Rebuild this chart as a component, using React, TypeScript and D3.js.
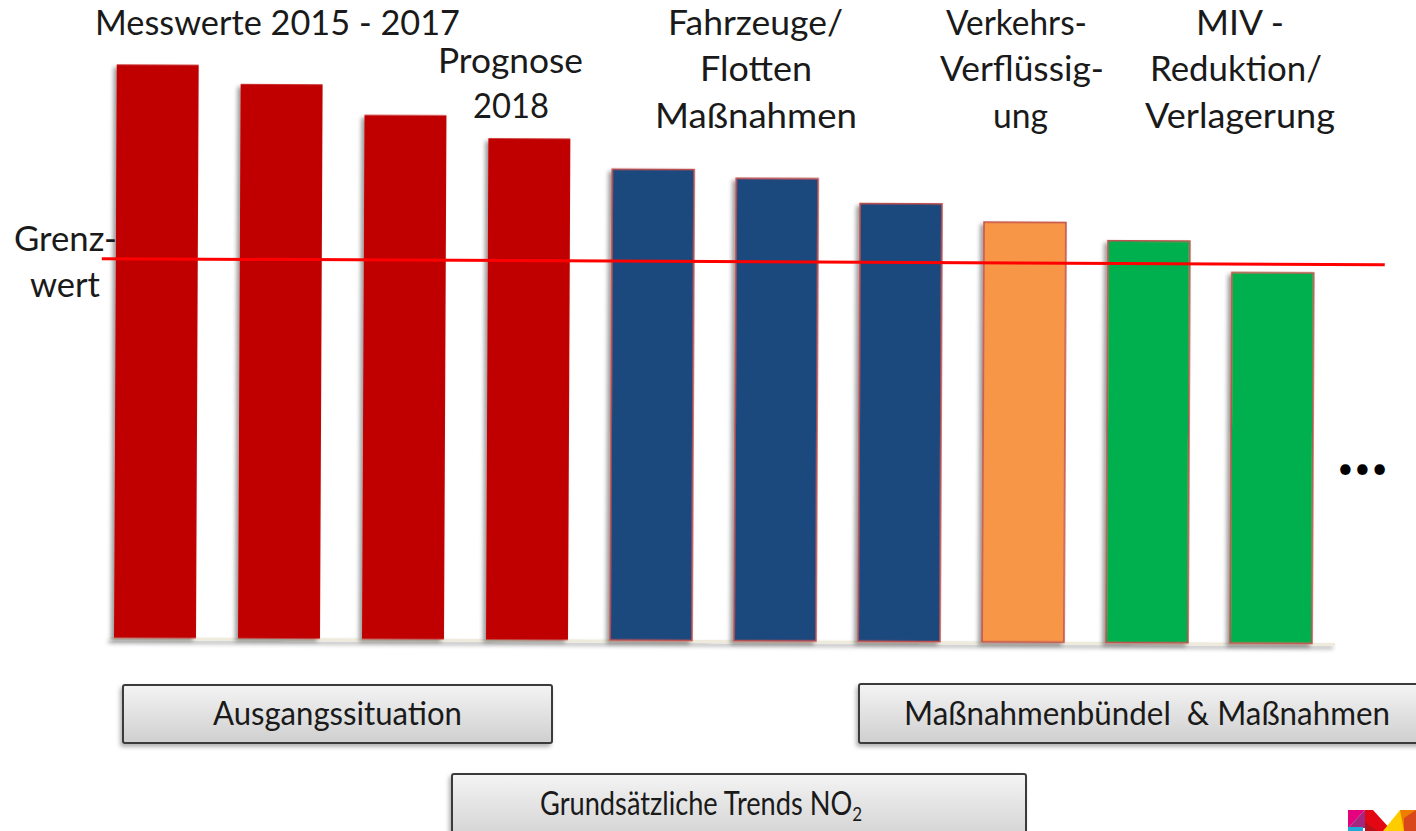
import React from "react";
import * as d3 from "d3";

// ---- data ----
const categories = [
  "Messwert 2015",
  "Messwert 2016",
  "Messwert 2017",
  "Prognose 2018",
  "Fahrzeuge A",
  "Fahrzeuge B",
  "Flotten",
  "Verkehrsverflüssigung",
  "MIV-Reduktion",
  "Verlagerung",
];
const values = [60.5, 58.5, 55.3, 52.9, 49.7, 48.8, 46.2, 44.3, 42.4, 39.1];
const kinds = ["mess", "mess", "mess", "mess", "fahr", "fahr", "fahr", "verk", "miv", "miv"];
const grenzwert = 40;

const kindColor: Record<string, string> = {
  mess: "#c00000",
  fahr: "#1f497d",
  verk: "#f79646",
  miv: "#00b050",
};
const kindStroke: Record<string, string> = {
  mess: "none",
  fahr: "#c0504d",
  verk: "#c0504d",
  miv: "#c0504d",
};

const W = 1416;
const H = 831;
const FONT = "Lato, 'Open Sans', sans-serif";

export default function App() {
  const x = d3
    .scaleBand<string>()
    .domain(categories)
    .range([93, 1333])
    .paddingInner(0.339)
    .paddingOuter(0.1695);
  const y = d3.scaleLinear().domain([0, grenzwert]).range([640.5, 261.5]);

  const label = (t: string, x0: number, x1: number, yb: number, size = 34) => (
    <text
      key={t + x0}
      x={(x0 + x1) / 2}
      y={yb}
      textAnchor="middle"
      fontFamily={FONT}
      fontSize={size}
      fill="#1a1a1a"
      textLength={x1 - x0}
      lengthAdjust="spacingAndGlyphs"
      style={{ whiteSpace: "pre" }}
    >
      {t}
    </text>
  );

  const box = (x0: number, y0: number, x1: number, y1: number) => (
    <rect
      x={x0}
      y={y0}
      width={x1 - x0}
      height={y1 - y0}
      rx={2}
      fill="url(#boxGrad)"
      stroke="#3a3a3a"
      strokeWidth={2}
      filter="url(#boxShadow)"
    />
  );

  return (
    <svg
      width={W}
      height={H}
      style={{ position: "absolute", left: 0, top: 0, background: "#fff" }}
    >
      <defs>
        <filter id="barShadow" x="-20%" y="-10%" width="140%" height="120%">
          <feDropShadow dx={-3} dy={3} stdDeviation={2} floodColor="#000" floodOpacity={0.4} />
        </filter>
        <filter id="lineShadow" filterUnits="userSpaceOnUse" x={0} y={600} width={1416} height={80}>
          <feDropShadow dx={-2} dy={3} stdDeviation={2} floodColor="#000" floodOpacity={0.35} />
        </filter>
        <filter id="boxShadow" x="-5%" y="-20%" width="110%" height="150%">
          <feDropShadow dx={-2} dy={3} stdDeviation={2} floodColor="#000" floodOpacity={0.3} />
        </filter>
        <linearGradient id="boxGrad" x1="0" y1="0" x2="0" y2="1">
          <stop offset="0%" stopColor="#f4f4f4" />
          <stop offset="100%" stopColor="#cfcfcf" />
        </linearGradient>
      </defs>

      <g transform="rotate(0.27, 705, 640)">
        {/* baseline */}
        <line
          x1={110}
          x2={1335}
          y1={y(0) + 1}
          y2={y(0) + 1}
          stroke="#eeebdc"
          strokeWidth={3}
          filter="url(#lineShadow)"
        />
        {categories.map((c, i) => (
          <rect
            key={c}
            x={x(c)}
            y={y(values[i])}
            width={x.bandwidth()}
            height={y(0) - y(values[i])}
            fill={kindColor[kinds[i]]}
            stroke={kindStroke[kinds[i]]}
            strokeWidth={1.5}
            filter="url(#barShadow)"
          />
        ))}
        {/* Grenzwert line */}
        <line
          x1={100}
          x2={1383}
          y1={y(grenzwert)}
          y2={y(grenzwert)}
          stroke="#ff0000"
          strokeWidth={3}
        />
      </g>

      {/* top labels */}
      {label("Messwerte 2015 - 2017", 95, 460, 35)}
      {label("Prognose", 438, 583, 73)}
      {label("2018", 473, 549, 118)}
      {label("Fahrzeuge/", 668, 843, 35)}
      {label("Flotten", 700, 812, 81)}
      {label("Maßnahmen", 655, 857, 128)}
      {label("Verkehrs-", 946, 1087, 35)}
      {label("Verflüssig-", 940, 1104, 81)}
      {label("ung", 993, 1048, 128)}
      {label("MIV -", 1196, 1284, 35)}
      {label("Reduktion/", 1150, 1322, 81)}
      {label("Verlagerung", 1145, 1335, 128)}
      {label("Grenz-", 14, 117, 251)}
      {label("wert", 30, 100, 297)}
      <text
        x={1363}
        y={478}
        textAnchor="middle"
        fontFamily={FONT}
        fontSize={28}
        letterSpacing={1}
        fill="#000"
      >
        •••
      </text>

      {/* boxes */}
      {box(123, 685, 552, 743)}
      {label("Ausgangssituation", 213, 462, 725, 32)}
      {box(859, 684, 1425, 743)}
      {label("Maßnahmenbündel  & Maßnahmen", 904, 1390, 725, 32)}
      {box(452, 774, 1026, 845)}
      <text
        transform="translate(540,815) scale(0.85,1)"
        fontFamily={FONT}
        fontSize={32}
        fill="#1a1a1a"
      >
        Grundsätzliche Trends NO
        <tspan fontSize={20} dy={6}>
          2
        </tspan>
      </text>

      {/* logo */}
      <g>
        <polygon points="1348,810 1365,810 1348,828" fill="#e5007d" />
        <polygon points="1365,810 1365,828 1348,828" fill="#a3267f" />
        <polygon points="1348,827 1363,827 1363,831 1348,831" fill="#1fa8d8" />
        <polygon points="1365,810 1373,810 1392,831 1365,831" fill="#e30613" />
        <polygon points="1365,822 1377,831 1365,831" fill="#b3121a" />
        <polygon points="1383,831 1400,810 1404,810 1404,831" fill="#ffcc00" />
        <polygon points="1400,810 1416,810 1416,831 1404,831" fill="#ef7d00" />
        <polygon points="1404,818 1416,810 1416,831 1404,831" fill="#d9481a" />
      </g>
    </svg>
  );
}
